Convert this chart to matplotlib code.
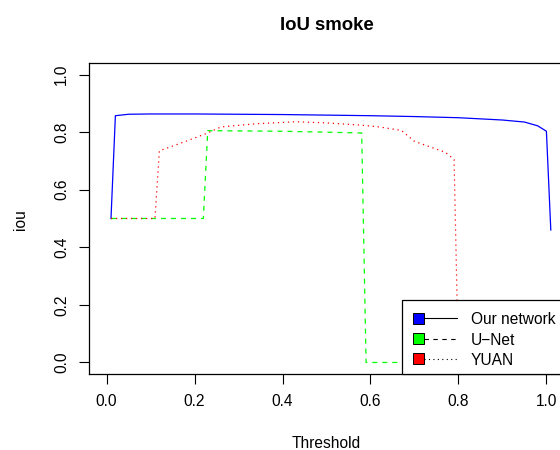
import matplotlib.pyplot as plt
import numpy as np
from matplotlib.patches import Rectangle

plt.rcParams['font.family'] = ['Liberation Sans', 'DejaVu Sans']

# IoU vs threshold
thr_ours = [0.01, 0.02, 0.05, 0.10, 0.20, 0.30, 0.40, 0.50, 0.60, 0.70, 0.80, 0.90, 0.95, 0.98, 1.00, 1.01]
iou_ours = [0.50, 0.857, 0.862, 0.863, 0.863, 0.862, 0.861, 0.859, 0.857, 0.854, 0.850, 0.842, 0.835, 0.822, 0.803, 0.46]

thr_unet = [0.01, 0.22, 0.23, 0.40, 0.58, 0.59, 1.01]
iou_unet = [0.50, 0.50, 0.805, 0.803, 0.797, 0.0, 0.0]

thr_yuan = [0.01, 0.11, 0.12, 0.18, 0.23, 0.26, 0.34, 0.43, 0.50, 0.58, 0.62, 0.67, 0.70, 0.77, 0.79, 0.80, 1.01]
iou_yuan = [0.50, 0.50, 0.735, 0.768, 0.797, 0.818, 0.829, 0.836, 0.832, 0.824, 0.818, 0.806, 0.768, 0.730, 0.705, 0.0, 0.0]

names = ['Our network', 'U\u2212Net', 'YUAN']
colors = ['blue', '#00ff00', 'red']
styles = ['-', (0, (4, 4)), (0, (1, 3))]

ticks = [0.0, 0.2, 0.4, 0.6, 0.8, 1.0]
tick_labels = ['0.0', '0.2', '0.4', '0.6', '0.8', '1.0']

fig = plt.figure(figsize=(5.6, 4.5), dpi=100)
ax = fig.add_axes([89/560, 76/450, 475/560, 311/450])

ax.plot(thr_ours, iou_ours, color=colors[0], linestyle=styles[0], lw=0.9)
ax.plot(thr_unet, iou_unet, color=colors[1], linestyle=styles[1], lw=0.9)
ax.plot(thr_yuan, iou_yuan, color=colors[2], linestyle=styles[2], lw=0.9)

ax.set_xlim(-0.04, 1.04)
ax.set_ylim(-0.04, 1.04)
ax.set_xticks(ticks)
ax.set_xticklabels(tick_labels)
ax.set_yticks(ticks)
ax.set_yticklabels(tick_labels, rotation=90, va='center')
ax.tick_params(axis='x', length=7.2, width=0.8, pad=7.5, labelsize=11.2)
ax.tick_params(axis='y', length=7.2, width=0.8, pad=7, labelsize=11.2)
for s in ax.spines.values():
    s.set_linewidth(0.9)

# R style legend, bottom right corner
ax.add_patch(Rectangle((0.6585, 0.0), 0.5, 0.238, transform=ax.transAxes,
                       facecolor='white', edgecolor='black', lw=0.9, zorder=5, clip_on=False))
rows = [0.1785, 0.1141, 0.0498]
for i in range(3):
    ax.add_patch(Rectangle((0.6815, rows[i] - 0.0172), 0.0238, 0.0344, transform=ax.transAxes,
                           facecolor=colors[i], edgecolor='black', lw=0.7, zorder=6, clip_on=False))
    ax.plot([0.7053, 0.7747], [rows[i], rows[i]], transform=ax.transAxes, color='black',
            linestyle=styles[i], lw=0.8, zorder=6, clip_on=False)
    ax.text(0.8042, rows[i] - 0.0193, names[i], transform=ax.transAxes, fontsize=11.2,
            va='baseline', ha='left', zorder=7)

fig.text(326.5/560, 1 - 30/450, 'IoU smoke', fontsize=13.4, fontweight='bold', ha='center', va='baseline')
fig.text(326.5/560, 1 - 448.3/450, 'Threshold', fontsize=11.2, ha='center', va='baseline')
fig.text(21/560, 1 - 220/450, 'iou', fontsize=11.2, rotation=90, ha='center', va='center')

fig.savefig('out.png', dpi=100)
